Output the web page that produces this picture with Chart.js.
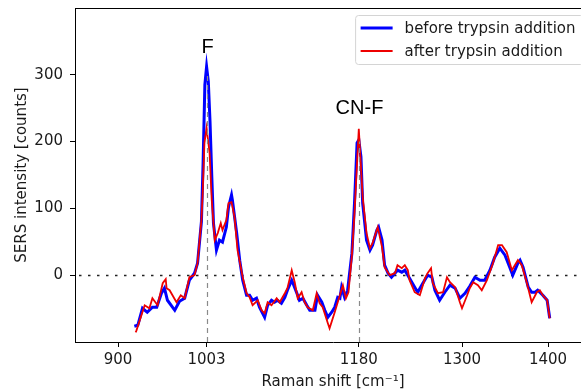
<!DOCTYPE html>
<html>
<head>
<meta charset="utf-8">
<script src="https://cdn.jsdelivr.net/npm/chart.js@4.4.1/dist/chart.umd.min.js"></script>
<style>
html, body { margin: 0; padding: 0; background: #fff; overflow: hidden; width: 581px; height: 391px; }
canvas { display: block; }
</style>
</head>
<body>
<canvas id="myChart" width="592" height="391"></canvas>
<script>
// Raman shift (cm-1) and SERS counts
const blueShift = [919, 923, 928.5, 934, 940, 945, 950.5, 954, 957.5, 966,
    971.5, 977.5, 983, 989, 992.5, 997, 999, 1001, 1003, 1005,
    1007, 1009, 1011, 1014.5, 1018, 1021.5, 1026, 1028.5, 1032, 1033,
    1038, 1041.5, 1045, 1049.5, 1053, 1056.5, 1061, 1064.5, 1070.5, 1074,
    1078.5, 1082, 1085.5, 1090, 1094, 1097, 1102, 1103, 1108, 1111,
    1115, 1119.5, 1123, 1129, 1132, 1137, 1140.5, 1144, 1148.5, 1152,
    1155.5, 1158, 1160, 1163.5, 1167, 1172, 1175, 1178, 1180, 1182.5,
    1184.5, 1189, 1193, 1196, 1201, 1203, 1207, 1210, 1214, 1218,
    1222, 1225, 1230, 1233.5, 1239, 1245, 1248.5, 1254.5, 1260, 1265,
    1268.5, 1274, 1280, 1286, 1292, 1297.5, 1303.5, 1309, 1315, 1321,
    1326.5, 1332.5, 1338, 1344, 1350, 1355.5, 1359, 1365, 1367.5, 1371,
    1377, 1381, 1385, 1388, 1394, 1399, 1402];
const blueCounts = [-76.5, -75, -49.5, -55.5, -48, -48, -27, -19.5, -37.5, -52.5,
    -39, -34.5, -7.5, 3, 18, 80, 170, 285, 312, 290,
    230, 150, 78, 37.5, 52.5, 49.5, 72, 102, 120, 112.5,
    63, 22.5, -7.5, -30, -30, -37.5, -34.5, -48, -63, -45,
    -37.5, -40.5, -37.5, -42, -33, -22.5, -7.5, -10.5, -27, -37.5,
    -34.5, -45, -52.5, -52.5, -30, -40.5, -52.5, -63, -55.5, -48,
    -33, -34.5, -18, -33, -22.5, 33, 108, 198, 202.5, 177,
    108, 52.5, 37.5, 45, 67.5, 72, 52.5, 15, 3, -3,
    3, 7.5, 4.5, 7.5, -4.5, -18, -25.5, -12, 0, -3,
    -22.5, -37.5, -25.5, -15, -19.5, -34.5, -27, -16.5, -3, -7.5,
    -7.5, 7.5, 27, 40.5, 30, 12, 0, 18, 22.5, 12,
    -18, -25.5, -25.5, -22.5, -30, -37.5, -64.5];

const redShift = [920.5, 921.5, 931, 936.5, 940, 946, 952, 955.5, 956.5, 960,
    968, 973, 977.5, 983, 989, 992.5, 997, 998.5, 1000.5, 1003,
    1006.5, 1009, 1012.5, 1016, 1019.5, 1021.5, 1026, 1028.5, 1032, 1035.5,
    1039, 1045, 1049.5, 1053, 1056.5, 1062.5, 1067, 1070.5, 1074, 1078.5,
    1084.5, 1088, 1094, 1097, 1102, 1105.5, 1109, 1113.5, 1117, 1120.5,
    1126.5, 1131, 1134.5, 1138, 1144, 1146, 1152, 1155.5, 1158, 1161.5,
    1165, 1168, 1172, 1175, 1180, 1184.5, 1189, 1193, 1196, 1202,
    1207, 1210, 1216, 1222, 1225, 1230, 1233.5, 1237, 1239, 1245,
    1251, 1257, 1260, 1264, 1266, 1272, 1278, 1282.5, 1286, 1292,
    1297.5, 1300, 1306, 1309, 1313, 1318.5, 1323, 1329, 1336, 1342,
    1346.5, 1352, 1358, 1365, 1369.5, 1375.5, 1381, 1387, 1390.5, 1394,
    1399, 1402];
const redCounts = [-85.5, -82.5, -45, -49.5, -34.5, -45, -12, -6, -19.5, -22.5,
    -40.5, -30, -34.5, -3, 0, 18, 82.5, 123, 198, 220.5,
    183, 112.5, 52.5, 63, 78, 67.5, 82.5, 108, 109.5, 87,
    37.5, -3, -27, -33, -45, -37.5, -52.5, -57, -40.5, -45,
    -34.5, -40.5, -27, -19.5, 7.5, -10.5, -34.5, -25.5, -40.5, -48,
    -52.5, -27, -42, -48, -72, -79.5, -55.5, -40.5, -30, -15,
    -34.5, -25.5, 30, 93, 219, 117, 63, 40.5, 48, 72,
    42, 12, 0, 3, 15, 10.5, 15, 7.5, -7.5, -25.5,
    -30, -4.5, 3, 10.5, -12, -27, -25.5, -3, -10.5, -18,
    -40.5, -49.5, -30, -19.5, -10.5, -15, -22.5, -7.5, 18, 45,
    45, 34.5, 7.5, 22.5, 15, -12, -40.5, -25.5, -22.5, -30,
    -37.5, -64.5];

const xTicks = [900, 1003, 1180, 1300, 1400];
const yTicks = [0, 100, 200, 300];

const peakNames = ['F', 'CN-F'];
const peakShift = [1003, 1180];
const peakGuideTop = [300, 200];
const peakLabelAt = [341, 249];

const toPoints = (xs, ys) => xs.map((x, i) => ({x: x, y: ys[i]}));

Chart.defaults.font.family = "'DejaVu Sans', sans-serif";
Chart.defaults.font.size = 15;
Chart.defaults.color = '#1a1a1a';

// keep the plot box where the reference has it
const noScalePad = s => { s.paddingTop = 0; s.paddingBottom = 0; s.paddingLeft = 0; s.paddingRight = 0; };

const zeroLine = {
    id: 'zeroLine',
    beforeDatasetsDraw(chart) {
        const {ctx, chartArea: a, scales: {y}} = chart;
        const py = Math.round(y.getPixelForValue(0)) + 0.5;
        ctx.save();
        ctx.setLineDash([2.5, 6.5]);
        ctx.strokeStyle = '#222';
        ctx.lineWidth = 1.3;
        ctx.beginPath();
        ctx.moveTo(a.left + 4, py);
        ctx.lineTo(a.right, py);
        ctx.stroke();
        ctx.restore();
    }
};

const peakMarks = {
    id: 'peakMarks',
    afterDatasetsDraw(chart) {
        const {ctx, scales: {x, y}} = chart;
        ctx.save();
        peakShift.forEach((s, i) => {
            const px = Math.round(x.getPixelForValue(s)) + 0.5;
            ctx.setLineDash([5, 4]);
            ctx.strokeStyle = '#8a8a8a';
            ctx.lineWidth = 1.2;
            ctx.beginPath();
            ctx.moveTo(px, y.getPixelForValue(y.min));
            ctx.lineTo(px, y.getPixelForValue(peakGuideTop[i]));
            ctx.stroke();
            ctx.setLineDash([]);
            ctx.fillStyle = '#000';
            ctx.font = "20px 'Liberation Sans', sans-serif";
            ctx.textAlign = 'center';
            ctx.textBaseline = 'middle';
            ctx.fillText(peakNames[i], px, y.getPixelForValue(peakLabelAt[i]));
        });
        ctx.restore();
    }
};

const frameAndLegend = {
    id: 'frameAndLegend',
    afterDraw(chart) {
        const {ctx, chartArea: a} = chart;
        ctx.save();
        ctx.strokeStyle = '#000';
        ctx.lineWidth = 1;
        ctx.beginPath();
        ctx.moveTo(a.left, a.top + 0.5);
        ctx.lineTo(a.right, a.top + 0.5);
        ctx.stroke();

        const sets = chart.data.datasets;
        ctx.font = "15px 'DejaVu Sans', sans-serif";
        const textW = Math.max(...sets.map(d => ctx.measureText(d.label).width));
        const w = 5 + 32 + 12 + textW + 8, h = 49;
        const right = a.right - 7.5, top = a.top + 7.5, left = right - w;
        ctx.beginPath();
        ctx.roundRect(left, top, w, h, 3);
        ctx.fillStyle = 'rgba(255,255,255,0.8)';
        ctx.fill();
        ctx.strokeStyle = '#d4d4d4';
        ctx.stroke();
        sets.forEach((d, i) => {
            const cy = top + 12.5 + i * 23;
            ctx.strokeStyle = d.borderColor;
            ctx.lineWidth = d.borderWidth;
            ctx.beginPath();
            ctx.moveTo(left + 5, cy);
            ctx.lineTo(left + 37, cy);
            ctx.stroke();
            ctx.fillStyle = '#1a1a1a';
            ctx.textAlign = 'left';
            ctx.textBaseline = 'middle';
            ctx.fillText(d.label, left + 49, cy + 1);
        });
        ctx.restore();
    }
};

const ctx = document.getElementById('myChart').getContext('2d');

const myChart = new Chart(ctx, {
    type: 'line',
    data: {
        datasets: [{
            label: 'before trypsin addition',
            data: toPoints(blueShift, blueCounts),
            borderColor: '#0000ff',
            backgroundColor: '#0000ff',
            borderWidth: 3,
            pointRadius: 0,
            tension: 0,
            order: 1
        }, {
            label: 'after trypsin addition',
            data: toPoints(redShift, redCounts),
            borderColor: '#ee0000',
            backgroundColor: '#ee0000',
            borderWidth: 1.8,
            pointRadius: 0,
            tension: 0,
            order: 0
        }]
    },
    options: {
        responsive: false,
        animation: false,
        layout: { padding: { top: 8, right: 1, left: 0, bottom: 0 } },
        scales: {
            x: {
                type: 'linear',
                min: 850,
                max: 1450,
                afterBuildTicks: s => { s.ticks = xTicks.map(v => ({value: v})); },
                afterFit: s => { s.height = 49; noScalePad(s); },
                grid: { display: true, drawOnChartArea: false, drawTicks: true, tickLength: 5, color: '#000' },
                border: { display: true, color: '#000', width: 1 },
                ticks: { padding: 4, autoSkip: false, maxRotation: 0, callback: v => String(v) },
                title: { display: true, text: 'Raman shift [cm\u207B\u00B9]', padding: { top: 0, bottom: 0 } }
            },
            y: {
                min: -100,
                max: 400,
                afterBuildTicks: s => { s.ticks = yTicks.map(v => ({value: v})); },
                afterFit: s => { s.width = 75; noScalePad(s); },
                grid: { display: true, drawOnChartArea: false, drawTicks: true, tickLength: 5, color: '#000' },
                border: { display: true, color: '#000', width: 1 },
                ticks: { padding: 7, callback: v => String(v) },
                title: { display: true, text: 'SERS intensity [counts]', padding: { top: 13, bottom: 0 } }
            }
        },
        plugins: {
            legend: { display: false },
            tooltip: { enabled: false }
        }
    },
    plugins: [zeroLine, peakMarks, frameAndLegend]
});
</script>
</body>
</html>
